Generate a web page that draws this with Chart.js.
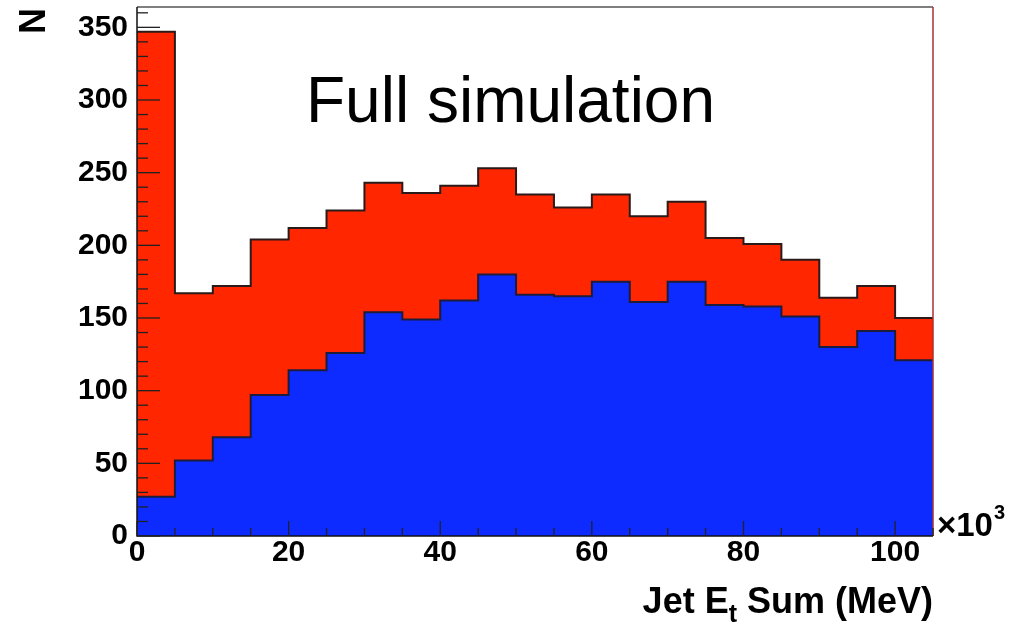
<!DOCTYPE html>
<html>
<head>
<meta charset="utf-8">
<script src="https://cdn.jsdelivr.net/npm/chart.js@4/dist/chart.umd.min.js"></script>
<style>
  html, body { margin: 0; padding: 0; background: #fff; }
  #wrap { width: 1015px; height: 625px; }
</style>
</head>
<body>
<div id="wrap"><canvas id="jet-chart" width="1015" height="625"></canvas></div>
<script>
// bin left edges (x 10^3 MeV), last entry closes the final bin
let binEdges = [0, 5, 10, 15, 20, 25, 30, 35, 40, 45, 50, 55, 60, 65, 70, 75, 80, 85, 90, 95, 100, 105]

// counts per bin
let allCounts = [347, 167, 172, 204, 212, 224, 243, 236, 241, 253, 235, 226, 235, 220, 230, 205, 201, 190, 164, 172, 150]
let subCounts = [27, 52, 68, 97, 114, 126, 154, 149, 162, 180, 166, 165, 175, 161, 175, 159, 158, 151, 130, 141, 121]

let xTicks = [0, 20, 40, 60, 80, 100]
let yTicks = [0, 50, 100, 150, 200, 250, 300, 350]

let xMax = 105
let yMax = 364

let fontFamily = '"Liberation Sans", Arial, Helvetica, sans-serif'

// turn counts into step points (last bin repeated at the closing edge)
function stepPoints(counts) {
    let pts = []
    for (let i = 0; i < binEdges.length; i++) {
        pts.push({x: binEdges[i], y: counts[Math.min(i, counts.length - 1)]})
    }
    return pts
}

// ROOT style frame, inward ticks and the extra texts
let rootStyle = {
    id: 'rootStyle',
    afterDatasetsDraw(chart) {
        let ctx = chart.ctx
        let a = chart.chartArea
        let xs = chart.scales.x
        let ys = chart.scales.y
        ctx.save()

        // frame top + right
        ctx.lineWidth = 1.5
        ctx.strokeStyle = '#555'
        ctx.beginPath()
        ctx.moveTo(a.left, a.top)
        ctx.lineTo(a.right, a.top)
        ctx.stroke()
        ctx.strokeStyle = '#a83030'
        ctx.beginPath()
        ctx.moveTo(a.right, a.top)
        ctx.lineTo(a.right, a.bottom)
        ctx.stroke()

        // axes
        ctx.strokeStyle = '#111'
        ctx.lineWidth = 1.5
        ctx.beginPath()
        ctx.moveTo(a.left, a.top)
        ctx.lineTo(a.left, a.bottom)
        ctx.lineTo(a.right, a.bottom)
        ctx.stroke()

        // y ticks, major every 50, minor every 10
        ctx.lineWidth = 1.3
        ctx.strokeStyle = '#222'
        for (let v = 0; v <= yMax; v += 10) {
            let y = ys.getPixelForValue(v)
            let len = v % 50 === 0 ? 23 : 11
            ctx.beginPath()
            ctx.moveTo(a.left, y)
            ctx.lineTo(a.left + len, y)
            ctx.stroke()
        }
        // x ticks, major every 20, minor every 5
        for (let v = 0; v <= xMax; v += 5) {
            let x = xs.getPixelForValue(v)
            let len = v % 20 === 0 ? 15 : 8
            ctx.beginPath()
            ctx.moveTo(x, a.bottom)
            ctx.lineTo(x, a.bottom - len)
            ctx.stroke()
        }

        ctx.fillStyle = '#000'
        ctx.textBaseline = 'alphabetic'

        // label inside the frame
        ctx.font = '64px ' + fontFamily
        ctx.textAlign = 'left'
        ctx.fillText('Full simulation', 306, 122)

        // x axis title with subscript, right aligned to the frame
        let bold = 'bold 36px ' + fontFamily
        let sub = 'bold 25px ' + fontFamily
        ctx.font = bold
        let p1 = 'Jet E'
        let p3 = ' Sum (MeV)'
        let w1 = ctx.measureText(p1).width
        let w3 = ctx.measureText(p3).width
        ctx.font = sub
        let w2 = ctx.measureText('t').width
        let x0 = a.right - (w1 + w2 + w3)
        let base = 613
        ctx.font = bold
        ctx.fillText(p1, x0, base)
        ctx.font = sub
        ctx.fillText('t', x0 + w1, base + 9)
        ctx.font = bold
        ctx.fillText(p3, x0 + w1 + w2, base)

        // x10^3 multiplier
        ctx.font = 'bold 33px ' + fontFamily
        ctx.fillText('\u00d710', 937, 536)
        let wm = ctx.measureText('\u00d710').width
        ctx.font = 'bold 20px ' + fontFamily
        ctx.fillText('3', 937 + wm + 1, 519)

        // y axis title
        ctx.save()
        ctx.translate(45, 8)
        ctx.rotate(-Math.PI / 2)
        ctx.font = 'bold 36px ' + fontFamily
        ctx.textAlign = 'right'
        ctx.fillText('N', 0, 0)
        ctx.restore()

        ctx.restore()
    }
}

let canvas = document.querySelector('#jet-chart')
let ctx = canvas.getContext('2d')

let chart = new Chart(ctx, {
    type: 'line',
    data: {
        datasets: [{
            label: 'subset',
            data: stepPoints(subCounts),
            stepped: 'before',
            fill: 'origin',
            backgroundColor: '#0d2bff',
            borderColor: '#1c1c3c',
            borderWidth: 2,
            pointRadius: 0
        }, {
            label: 'all',
            data: stepPoints(allCounts),
            stepped: 'before',
            fill: 'origin',
            backgroundColor: '#ff2600',
            borderColor: '#2a1a1a',
            borderWidth: 2,
            pointRadius: 0
        }]
    },
    options: {
        responsive: false,
        animation: false,
        layout: {padding: {top: 7, right: 82, left: 0, bottom: 0}},
        plugins: {
            legend: {display: false},
            tooltip: {enabled: false}
        },
        scales: {
            x: {
                type: 'linear',
                min: 0,
                max: xMax,
                grid: {display: false, drawTicks: false},
                border: {display: false},
                ticks: {
                    font: {family: fontFamily, size: 30, weight: 'bold'},
                    color: '#000',
                    padding: -1,
                    maxRotation: 0,
                    autoSkip: false
                },
                afterBuildTicks(scale) {
                    scale.ticks = xTicks.map(v => ({value: v}))
                },
                afterFit(scale) {
                    scale.height = 89
                    scale.paddingLeft = 0
                    scale.paddingRight = 0
                }
            },
            y: {
                type: 'linear',
                min: 0,
                max: yMax,
                grid: {display: false, drawTicks: false},
                border: {display: false},
                ticks: {
                    font: {family: fontFamily, size: 30, weight: 'bold'},
                    color: '#000',
                    padding: 9,
                    autoSkip: false
                },
                afterBuildTicks(scale) {
                    scale.ticks = yTicks.map(v => ({value: v}))
                },
                afterFit(scale) {
                    scale.width = 137
                    scale.paddingTop = 0
                    scale.paddingBottom = 0
                }
            }
        }
    },
    plugins: [rootStyle]
})
</script>
</body>
</html>
